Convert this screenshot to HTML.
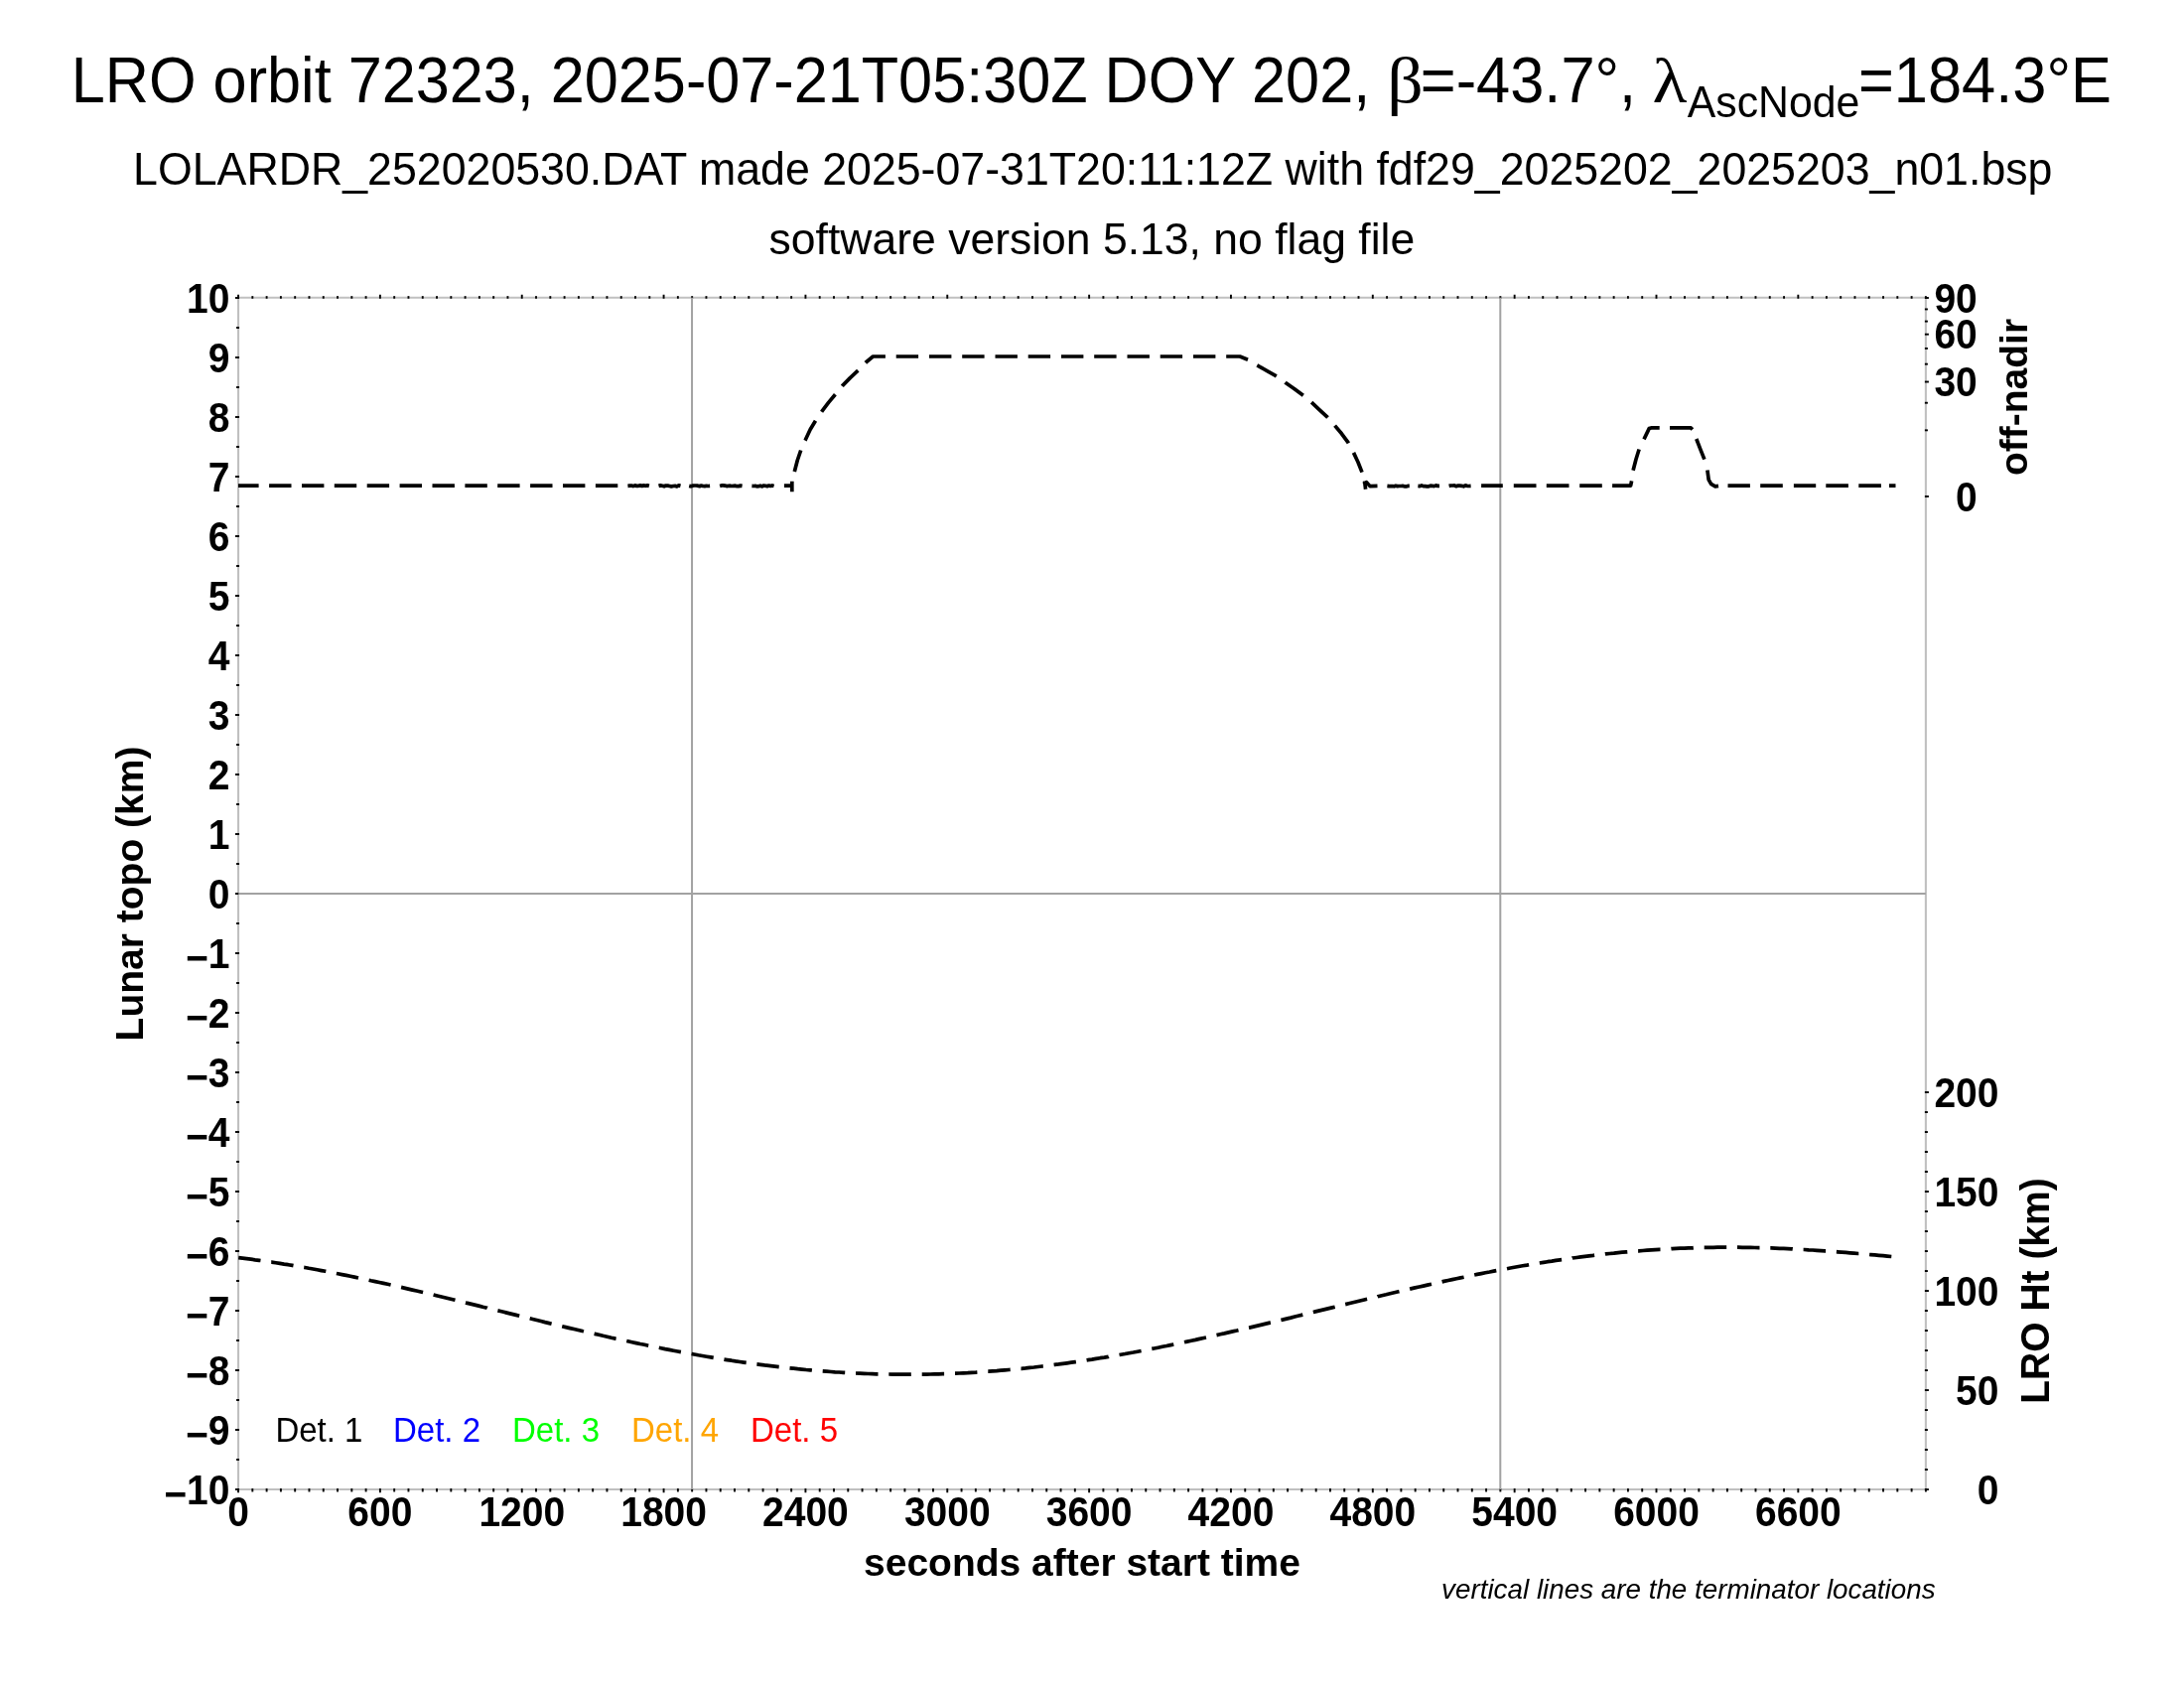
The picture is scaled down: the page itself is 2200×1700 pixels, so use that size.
<!DOCTYPE html>
<html lang="en"><head><meta charset="utf-8"><title>LRO orbit 72323</title>
<style>html,body{margin:0;padding:0;background:#fff}svg{display:block;will-change:transform}</style></head>
<body>
<svg width="2200" height="1700" viewBox="0 0 2200 1700">
<rect x="0" y="0" width="2200" height="1700" fill="#ffffff"/>
<g font-family="'Liberation Sans', sans-serif" font-size="33" text-anchor="middle">
<text transform="translate(321.4 1451.6) scale(1 1.05)" fill="#000000">Det. 1</text>
<text transform="translate(440.0 1451.6) scale(1 1.05)" fill="#0000ff">Det. 2</text>
<text transform="translate(560.0 1451.6) scale(1 1.05)" fill="#00ff00">Det. 3</text>
<text transform="translate(680.0 1451.6) scale(1 1.05)" fill="#ffa500">Det. 4</text>
<text transform="translate(800.0 1451.6) scale(1 1.05)" fill="#ff0000">Det. 5</text>
</g>
<path d="M240.05 299.75 H1939.90 V1500.05 H240.05 Z" stroke="#c0c0c0" stroke-width="2.1" fill="none"/>
<g fill="#000000">
<rect x="239.10" y="296.75" width="1.90" height="4.00"/>
<rect x="239.10" y="1499.05" width="1.90" height="4.20"/>
<rect x="253.38" y="298.15" width="1.90" height="2.60"/>
<rect x="253.38" y="1499.05" width="1.90" height="3.40"/>
<rect x="267.67" y="298.15" width="1.90" height="2.60"/>
<rect x="267.67" y="1499.05" width="1.90" height="3.40"/>
<rect x="281.95" y="298.15" width="1.90" height="2.60"/>
<rect x="281.95" y="1499.05" width="1.90" height="3.40"/>
<rect x="296.24" y="298.15" width="1.90" height="2.60"/>
<rect x="296.24" y="1499.05" width="1.90" height="3.40"/>
<rect x="310.52" y="298.15" width="1.90" height="2.60"/>
<rect x="310.52" y="1499.05" width="1.90" height="3.40"/>
<rect x="324.81" y="298.15" width="1.90" height="2.60"/>
<rect x="324.81" y="1499.05" width="1.90" height="3.40"/>
<rect x="339.09" y="298.15" width="1.90" height="2.60"/>
<rect x="339.09" y="1499.05" width="1.90" height="3.40"/>
<rect x="353.38" y="298.15" width="1.90" height="2.60"/>
<rect x="353.38" y="1499.05" width="1.90" height="3.40"/>
<rect x="367.66" y="298.15" width="1.90" height="2.60"/>
<rect x="367.66" y="1499.05" width="1.90" height="3.40"/>
<rect x="381.94" y="296.75" width="1.90" height="4.00"/>
<rect x="381.94" y="1499.05" width="1.90" height="4.20"/>
<rect x="396.23" y="298.15" width="1.90" height="2.60"/>
<rect x="396.23" y="1499.05" width="1.90" height="3.40"/>
<rect x="410.51" y="298.15" width="1.90" height="2.60"/>
<rect x="410.51" y="1499.05" width="1.90" height="3.40"/>
<rect x="424.80" y="298.15" width="1.90" height="2.60"/>
<rect x="424.80" y="1499.05" width="1.90" height="3.40"/>
<rect x="439.08" y="298.15" width="1.90" height="2.60"/>
<rect x="439.08" y="1499.05" width="1.90" height="3.40"/>
<rect x="453.37" y="298.15" width="1.90" height="2.60"/>
<rect x="453.37" y="1499.05" width="1.90" height="3.40"/>
<rect x="467.65" y="298.15" width="1.90" height="2.60"/>
<rect x="467.65" y="1499.05" width="1.90" height="3.40"/>
<rect x="481.94" y="298.15" width="1.90" height="2.60"/>
<rect x="481.94" y="1499.05" width="1.90" height="3.40"/>
<rect x="496.22" y="298.15" width="1.90" height="2.60"/>
<rect x="496.22" y="1499.05" width="1.90" height="3.40"/>
<rect x="510.50" y="298.15" width="1.90" height="2.60"/>
<rect x="510.50" y="1499.05" width="1.90" height="3.40"/>
<rect x="524.79" y="296.75" width="1.90" height="4.00"/>
<rect x="524.79" y="1499.05" width="1.90" height="4.20"/>
<rect x="539.07" y="298.15" width="1.90" height="2.60"/>
<rect x="539.07" y="1499.05" width="1.90" height="3.40"/>
<rect x="553.36" y="298.15" width="1.90" height="2.60"/>
<rect x="553.36" y="1499.05" width="1.90" height="3.40"/>
<rect x="567.64" y="298.15" width="1.90" height="2.60"/>
<rect x="567.64" y="1499.05" width="1.90" height="3.40"/>
<rect x="581.93" y="298.15" width="1.90" height="2.60"/>
<rect x="581.93" y="1499.05" width="1.90" height="3.40"/>
<rect x="596.21" y="298.15" width="1.90" height="2.60"/>
<rect x="596.21" y="1499.05" width="1.90" height="3.40"/>
<rect x="610.50" y="298.15" width="1.90" height="2.60"/>
<rect x="610.50" y="1499.05" width="1.90" height="3.40"/>
<rect x="624.78" y="298.15" width="1.90" height="2.60"/>
<rect x="624.78" y="1499.05" width="1.90" height="3.40"/>
<rect x="639.06" y="298.15" width="1.90" height="2.60"/>
<rect x="639.06" y="1499.05" width="1.90" height="3.40"/>
<rect x="653.35" y="298.15" width="1.90" height="2.60"/>
<rect x="653.35" y="1499.05" width="1.90" height="3.40"/>
<rect x="667.63" y="296.75" width="1.90" height="4.00"/>
<rect x="667.63" y="1499.05" width="1.90" height="4.20"/>
<rect x="681.92" y="298.15" width="1.90" height="2.60"/>
<rect x="681.92" y="1499.05" width="1.90" height="3.40"/>
<rect x="696.20" y="298.15" width="1.90" height="2.60"/>
<rect x="696.20" y="1499.05" width="1.90" height="3.40"/>
<rect x="710.49" y="298.15" width="1.90" height="2.60"/>
<rect x="710.49" y="1499.05" width="1.90" height="3.40"/>
<rect x="724.77" y="298.15" width="1.90" height="2.60"/>
<rect x="724.77" y="1499.05" width="1.90" height="3.40"/>
<rect x="739.06" y="298.15" width="1.90" height="2.60"/>
<rect x="739.06" y="1499.05" width="1.90" height="3.40"/>
<rect x="753.34" y="298.15" width="1.90" height="2.60"/>
<rect x="753.34" y="1499.05" width="1.90" height="3.40"/>
<rect x="767.62" y="298.15" width="1.90" height="2.60"/>
<rect x="767.62" y="1499.05" width="1.90" height="3.40"/>
<rect x="781.91" y="298.15" width="1.90" height="2.60"/>
<rect x="781.91" y="1499.05" width="1.90" height="3.40"/>
<rect x="796.19" y="298.15" width="1.90" height="2.60"/>
<rect x="796.19" y="1499.05" width="1.90" height="3.40"/>
<rect x="810.48" y="296.75" width="1.90" height="4.00"/>
<rect x="810.48" y="1499.05" width="1.90" height="4.20"/>
<rect x="824.76" y="298.15" width="1.90" height="2.60"/>
<rect x="824.76" y="1499.05" width="1.90" height="3.40"/>
<rect x="839.05" y="298.15" width="1.90" height="2.60"/>
<rect x="839.05" y="1499.05" width="1.90" height="3.40"/>
<rect x="853.33" y="298.15" width="1.90" height="2.60"/>
<rect x="853.33" y="1499.05" width="1.90" height="3.40"/>
<rect x="867.62" y="298.15" width="1.90" height="2.60"/>
<rect x="867.62" y="1499.05" width="1.90" height="3.40"/>
<rect x="881.90" y="298.15" width="1.90" height="2.60"/>
<rect x="881.90" y="1499.05" width="1.90" height="3.40"/>
<rect x="896.18" y="298.15" width="1.90" height="2.60"/>
<rect x="896.18" y="1499.05" width="1.90" height="3.40"/>
<rect x="910.47" y="298.15" width="1.90" height="2.60"/>
<rect x="910.47" y="1499.05" width="1.90" height="3.40"/>
<rect x="924.75" y="298.15" width="1.90" height="2.60"/>
<rect x="924.75" y="1499.05" width="1.90" height="3.40"/>
<rect x="939.04" y="298.15" width="1.90" height="2.60"/>
<rect x="939.04" y="1499.05" width="1.90" height="3.40"/>
<rect x="953.32" y="296.75" width="1.90" height="4.00"/>
<rect x="953.32" y="1499.05" width="1.90" height="4.20"/>
<rect x="967.61" y="298.15" width="1.90" height="2.60"/>
<rect x="967.61" y="1499.05" width="1.90" height="3.40"/>
<rect x="981.89" y="298.15" width="1.90" height="2.60"/>
<rect x="981.89" y="1499.05" width="1.90" height="3.40"/>
<rect x="996.18" y="298.15" width="1.90" height="2.60"/>
<rect x="996.18" y="1499.05" width="1.90" height="3.40"/>
<rect x="1010.46" y="298.15" width="1.90" height="2.60"/>
<rect x="1010.46" y="1499.05" width="1.90" height="3.40"/>
<rect x="1024.74" y="298.15" width="1.90" height="2.60"/>
<rect x="1024.74" y="1499.05" width="1.90" height="3.40"/>
<rect x="1039.03" y="298.15" width="1.90" height="2.60"/>
<rect x="1039.03" y="1499.05" width="1.90" height="3.40"/>
<rect x="1053.31" y="298.15" width="1.90" height="2.60"/>
<rect x="1053.31" y="1499.05" width="1.90" height="3.40"/>
<rect x="1067.60" y="298.15" width="1.90" height="2.60"/>
<rect x="1067.60" y="1499.05" width="1.90" height="3.40"/>
<rect x="1081.88" y="298.15" width="1.90" height="2.60"/>
<rect x="1081.88" y="1499.05" width="1.90" height="3.40"/>
<rect x="1096.17" y="296.75" width="1.90" height="4.00"/>
<rect x="1096.17" y="1499.05" width="1.90" height="4.20"/>
<rect x="1110.45" y="298.15" width="1.90" height="2.60"/>
<rect x="1110.45" y="1499.05" width="1.90" height="3.40"/>
<rect x="1124.74" y="298.15" width="1.90" height="2.60"/>
<rect x="1124.74" y="1499.05" width="1.90" height="3.40"/>
<rect x="1139.02" y="298.15" width="1.90" height="2.60"/>
<rect x="1139.02" y="1499.05" width="1.90" height="3.40"/>
<rect x="1153.31" y="298.15" width="1.90" height="2.60"/>
<rect x="1153.31" y="1499.05" width="1.90" height="3.40"/>
<rect x="1167.59" y="298.15" width="1.90" height="2.60"/>
<rect x="1167.59" y="1499.05" width="1.90" height="3.40"/>
<rect x="1181.87" y="298.15" width="1.90" height="2.60"/>
<rect x="1181.87" y="1499.05" width="1.90" height="3.40"/>
<rect x="1196.16" y="298.15" width="1.90" height="2.60"/>
<rect x="1196.16" y="1499.05" width="1.90" height="3.40"/>
<rect x="1210.44" y="298.15" width="1.90" height="2.60"/>
<rect x="1210.44" y="1499.05" width="1.90" height="3.40"/>
<rect x="1224.73" y="298.15" width="1.90" height="2.60"/>
<rect x="1224.73" y="1499.05" width="1.90" height="3.40"/>
<rect x="1239.01" y="296.75" width="1.90" height="4.00"/>
<rect x="1239.01" y="1499.05" width="1.90" height="4.20"/>
<rect x="1253.30" y="298.15" width="1.90" height="2.60"/>
<rect x="1253.30" y="1499.05" width="1.90" height="3.40"/>
<rect x="1267.58" y="298.15" width="1.90" height="2.60"/>
<rect x="1267.58" y="1499.05" width="1.90" height="3.40"/>
<rect x="1281.87" y="298.15" width="1.90" height="2.60"/>
<rect x="1281.87" y="1499.05" width="1.90" height="3.40"/>
<rect x="1296.15" y="298.15" width="1.90" height="2.60"/>
<rect x="1296.15" y="1499.05" width="1.90" height="3.40"/>
<rect x="1310.43" y="298.15" width="1.90" height="2.60"/>
<rect x="1310.43" y="1499.05" width="1.90" height="3.40"/>
<rect x="1324.72" y="298.15" width="1.90" height="2.60"/>
<rect x="1324.72" y="1499.05" width="1.90" height="3.40"/>
<rect x="1339.00" y="298.15" width="1.90" height="2.60"/>
<rect x="1339.00" y="1499.05" width="1.90" height="3.40"/>
<rect x="1353.29" y="298.15" width="1.90" height="2.60"/>
<rect x="1353.29" y="1499.05" width="1.90" height="3.40"/>
<rect x="1367.57" y="298.15" width="1.90" height="2.60"/>
<rect x="1367.57" y="1499.05" width="1.90" height="3.40"/>
<rect x="1381.86" y="296.75" width="1.90" height="4.00"/>
<rect x="1381.86" y="1499.05" width="1.90" height="4.20"/>
<rect x="1396.14" y="298.15" width="1.90" height="2.60"/>
<rect x="1396.14" y="1499.05" width="1.90" height="3.40"/>
<rect x="1410.43" y="298.15" width="1.90" height="2.60"/>
<rect x="1410.43" y="1499.05" width="1.90" height="3.40"/>
<rect x="1424.71" y="298.15" width="1.90" height="2.60"/>
<rect x="1424.71" y="1499.05" width="1.90" height="3.40"/>
<rect x="1438.99" y="298.15" width="1.90" height="2.60"/>
<rect x="1438.99" y="1499.05" width="1.90" height="3.40"/>
<rect x="1453.28" y="298.15" width="1.90" height="2.60"/>
<rect x="1453.28" y="1499.05" width="1.90" height="3.40"/>
<rect x="1467.56" y="298.15" width="1.90" height="2.60"/>
<rect x="1467.56" y="1499.05" width="1.90" height="3.40"/>
<rect x="1481.85" y="298.15" width="1.90" height="2.60"/>
<rect x="1481.85" y="1499.05" width="1.90" height="3.40"/>
<rect x="1496.13" y="298.15" width="1.90" height="2.60"/>
<rect x="1496.13" y="1499.05" width="1.90" height="3.40"/>
<rect x="1510.42" y="298.15" width="1.90" height="2.60"/>
<rect x="1510.42" y="1499.05" width="1.90" height="3.40"/>
<rect x="1524.70" y="296.75" width="1.90" height="4.00"/>
<rect x="1524.70" y="1499.05" width="1.90" height="4.20"/>
<rect x="1538.99" y="298.15" width="1.90" height="2.60"/>
<rect x="1538.99" y="1499.05" width="1.90" height="3.40"/>
<rect x="1553.27" y="298.15" width="1.90" height="2.60"/>
<rect x="1553.27" y="1499.05" width="1.90" height="3.40"/>
<rect x="1567.55" y="298.15" width="1.90" height="2.60"/>
<rect x="1567.55" y="1499.05" width="1.90" height="3.40"/>
<rect x="1581.84" y="298.15" width="1.90" height="2.60"/>
<rect x="1581.84" y="1499.05" width="1.90" height="3.40"/>
<rect x="1596.12" y="298.15" width="1.90" height="2.60"/>
<rect x="1596.12" y="1499.05" width="1.90" height="3.40"/>
<rect x="1610.41" y="298.15" width="1.90" height="2.60"/>
<rect x="1610.41" y="1499.05" width="1.90" height="3.40"/>
<rect x="1624.69" y="298.15" width="1.90" height="2.60"/>
<rect x="1624.69" y="1499.05" width="1.90" height="3.40"/>
<rect x="1638.98" y="298.15" width="1.90" height="2.60"/>
<rect x="1638.98" y="1499.05" width="1.90" height="3.40"/>
<rect x="1653.26" y="298.15" width="1.90" height="2.60"/>
<rect x="1653.26" y="1499.05" width="1.90" height="3.40"/>
<rect x="1667.55" y="296.75" width="1.90" height="4.00"/>
<rect x="1667.55" y="1499.05" width="1.90" height="4.20"/>
<rect x="1681.83" y="298.15" width="1.90" height="2.60"/>
<rect x="1681.83" y="1499.05" width="1.90" height="3.40"/>
<rect x="1696.11" y="298.15" width="1.90" height="2.60"/>
<rect x="1696.11" y="1499.05" width="1.90" height="3.40"/>
<rect x="1710.40" y="298.15" width="1.90" height="2.60"/>
<rect x="1710.40" y="1499.05" width="1.90" height="3.40"/>
<rect x="1724.68" y="298.15" width="1.90" height="2.60"/>
<rect x="1724.68" y="1499.05" width="1.90" height="3.40"/>
<rect x="1738.97" y="298.15" width="1.90" height="2.60"/>
<rect x="1738.97" y="1499.05" width="1.90" height="3.40"/>
<rect x="1753.25" y="298.15" width="1.90" height="2.60"/>
<rect x="1753.25" y="1499.05" width="1.90" height="3.40"/>
<rect x="1767.54" y="298.15" width="1.90" height="2.60"/>
<rect x="1767.54" y="1499.05" width="1.90" height="3.40"/>
<rect x="1781.82" y="298.15" width="1.90" height="2.60"/>
<rect x="1781.82" y="1499.05" width="1.90" height="3.40"/>
<rect x="1796.11" y="298.15" width="1.90" height="2.60"/>
<rect x="1796.11" y="1499.05" width="1.90" height="3.40"/>
<rect x="1810.39" y="296.75" width="1.90" height="4.00"/>
<rect x="1810.39" y="1499.05" width="1.90" height="4.20"/>
<rect x="1824.67" y="298.15" width="1.90" height="2.60"/>
<rect x="1824.67" y="1499.05" width="1.90" height="3.40"/>
<rect x="1838.96" y="298.15" width="1.90" height="2.60"/>
<rect x="1838.96" y="1499.05" width="1.90" height="3.40"/>
<rect x="1853.24" y="298.15" width="1.90" height="2.60"/>
<rect x="1853.24" y="1499.05" width="1.90" height="3.40"/>
<rect x="1867.53" y="298.15" width="1.90" height="2.60"/>
<rect x="1867.53" y="1499.05" width="1.90" height="3.40"/>
<rect x="1881.81" y="298.15" width="1.90" height="2.60"/>
<rect x="1881.81" y="1499.05" width="1.90" height="3.40"/>
<rect x="1896.10" y="298.15" width="1.90" height="2.60"/>
<rect x="1896.10" y="1499.05" width="1.90" height="3.40"/>
<rect x="1910.38" y="298.15" width="1.90" height="2.60"/>
<rect x="1910.38" y="1499.05" width="1.90" height="3.40"/>
<rect x="1924.67" y="298.15" width="1.90" height="2.60"/>
<rect x="1924.67" y="1499.05" width="1.90" height="3.40"/>
<rect x="1938.95" y="298.15" width="1.90" height="2.60"/>
<rect x="1938.95" y="1499.05" width="1.90" height="3.40"/>
<rect x="236.95" y="1499.05" width="4.10" height="1.90"/>
<rect x="238.05" y="1469.05" width="3.00" height="1.90"/>
<rect x="236.95" y="1439.05" width="4.10" height="1.90"/>
<rect x="238.05" y="1409.05" width="3.00" height="1.90"/>
<rect x="236.95" y="1379.05" width="4.10" height="1.90"/>
<rect x="238.05" y="1349.05" width="3.00" height="1.90"/>
<rect x="236.95" y="1319.05" width="4.10" height="1.90"/>
<rect x="238.05" y="1289.05" width="3.00" height="1.90"/>
<rect x="236.95" y="1259.05" width="4.10" height="1.90"/>
<rect x="238.05" y="1229.05" width="3.00" height="1.90"/>
<rect x="236.95" y="1199.05" width="4.10" height="1.90"/>
<rect x="238.05" y="1169.05" width="3.00" height="1.90"/>
<rect x="236.95" y="1139.05" width="4.10" height="1.90"/>
<rect x="238.05" y="1109.05" width="3.00" height="1.90"/>
<rect x="236.95" y="1079.05" width="4.10" height="1.90"/>
<rect x="238.05" y="1049.05" width="3.00" height="1.90"/>
<rect x="236.95" y="1019.05" width="4.10" height="1.90"/>
<rect x="238.05" y="989.05" width="3.00" height="1.90"/>
<rect x="236.95" y="959.05" width="4.10" height="1.90"/>
<rect x="238.05" y="929.05" width="3.00" height="1.90"/>
<rect x="236.95" y="899.05" width="4.10" height="1.90"/>
<rect x="238.05" y="869.05" width="3.00" height="1.90"/>
<rect x="236.95" y="839.05" width="4.10" height="1.90"/>
<rect x="238.05" y="809.05" width="3.00" height="1.90"/>
<rect x="236.95" y="779.05" width="4.10" height="1.90"/>
<rect x="238.05" y="749.05" width="3.00" height="1.90"/>
<rect x="236.95" y="719.05" width="4.10" height="1.90"/>
<rect x="238.05" y="689.05" width="3.00" height="1.90"/>
<rect x="236.95" y="659.05" width="4.10" height="1.90"/>
<rect x="238.05" y="629.05" width="3.00" height="1.90"/>
<rect x="236.95" y="599.05" width="4.10" height="1.90"/>
<rect x="238.05" y="569.05" width="3.00" height="1.90"/>
<rect x="236.95" y="539.05" width="4.10" height="1.90"/>
<rect x="238.05" y="509.05" width="3.00" height="1.90"/>
<rect x="236.95" y="479.05" width="4.10" height="1.90"/>
<rect x="238.05" y="449.05" width="3.00" height="1.90"/>
<rect x="236.95" y="419.05" width="4.10" height="1.90"/>
<rect x="238.05" y="389.05" width="3.00" height="1.90"/>
<rect x="236.95" y="359.05" width="4.10" height="1.90"/>
<rect x="238.05" y="329.05" width="3.00" height="1.90"/>
<rect x="236.95" y="299.05" width="4.10" height="1.90"/>
<rect x="1938.90" y="1499.10" width="4.00" height="1.90"/>
<rect x="1938.90" y="1479.10" width="3.00" height="1.90"/>
<rect x="1938.90" y="1459.10" width="3.00" height="1.90"/>
<rect x="1938.90" y="1439.10" width="3.00" height="1.90"/>
<rect x="1938.90" y="1419.10" width="3.00" height="1.90"/>
<rect x="1938.90" y="1399.10" width="4.00" height="1.90"/>
<rect x="1938.90" y="1379.10" width="3.00" height="1.90"/>
<rect x="1938.90" y="1359.10" width="3.00" height="1.90"/>
<rect x="1938.90" y="1339.10" width="3.00" height="1.90"/>
<rect x="1938.90" y="1319.10" width="3.00" height="1.90"/>
<rect x="1938.90" y="1299.10" width="4.00" height="1.90"/>
<rect x="1938.90" y="1279.10" width="3.00" height="1.90"/>
<rect x="1938.90" y="1259.10" width="3.00" height="1.90"/>
<rect x="1938.90" y="1239.10" width="3.00" height="1.90"/>
<rect x="1938.90" y="1219.10" width="3.00" height="1.90"/>
<rect x="1938.90" y="1199.10" width="4.00" height="1.90"/>
<rect x="1938.90" y="1179.10" width="3.00" height="1.90"/>
<rect x="1938.90" y="1159.10" width="3.00" height="1.90"/>
<rect x="1938.90" y="1139.10" width="3.00" height="1.90"/>
<rect x="1938.90" y="1119.10" width="3.00" height="1.90"/>
<rect x="1938.90" y="1099.10" width="4.00" height="1.90"/>
<rect x="1938.90" y="499.05" width="4.00" height="1.90"/>
<rect x="1938.90" y="432.38" width="3.00" height="1.90"/>
<rect x="1938.90" y="404.77" width="3.00" height="1.90"/>
<rect x="1938.90" y="383.58" width="4.00" height="1.90"/>
<rect x="1938.90" y="365.72" width="3.00" height="1.90"/>
<rect x="1938.90" y="349.98" width="3.00" height="1.90"/>
<rect x="1938.90" y="335.75" width="4.00" height="1.90"/>
<rect x="1938.90" y="322.67" width="3.00" height="1.90"/>
<rect x="1938.90" y="310.49" width="3.00" height="1.90"/>
<rect x="1938.90" y="299.05" width="4.00" height="1.90"/>
</g>
<g stroke="#a2a2a2" stroke-width="2.0" fill="none" stroke-linecap="butt">
<path d="M240.25 899.95 H1939.90"/>
<path d="M697.05 299.75 V1500.05"/>
<path d="M1511.30 299.75 V1500.05"/>
</g>
<path d="M240.0 489.2 L260.6 489.2 M271.1 489.2 L293.5 489.2 M304.0 489.2 L326.4 489.2 M336.8 489.2 L359.2 489.2 M369.7 489.2 L392.1 489.2 M402.6 489.2 L425.0 489.2 M435.5 489.2 L457.9 489.2 M468.4 489.2 L490.8 489.2 M501.2 489.2 L523.6 489.2 M534.1 489.2 L556.5 489.2 M567.0 489.2 L589.4 489.2 M599.9 489.2 L622.3 489.2 M632.4 489.4 L634.2 489.2 L636.0 489.0 L637.8 489.6 L639.6 488.9 L641.4 489.4 L643.1 489.3 L644.9 488.9 L646.7 489.4 L648.5 488.9 L650.3 489.3 L652.1 488.9 L653.9 489.4 M663.5 489.4 L665.3 488.9 L667.2 489.3 L669.0 489.8 L670.8 489.0 L672.7 489.1 L674.5 489.5 L676.3 489.9 L678.2 489.5 L680.0 489.3 L681.8 489.9 L683.7 488.9 L685.5 489.4 M694.2 489.4 L695.9 489.8 L697.7 489.2 L699.4 489.0 L701.2 489.0 L702.9 489.2 L704.7 489.7 L706.4 489.0 L708.1 489.5 L709.9 489.6 L711.6 489.3 L713.4 489.5 L715.1 489.4 M725.1 489.4 L726.8 488.9 L728.6 488.9 L730.3 489.1 L732.0 489.6 L733.8 489.3 L735.5 489.2 L737.2 489.5 L738.9 489.3 L740.7 489.2 L742.4 489.7 L744.1 489.6 L745.9 489.1 L747.6 489.4 M757.4 489.4 L759.1 489.5 L760.8 489.4 L762.5 489.8 L764.2 489.7 L765.9 489.2 L767.6 489.9 L769.4 489.0 L771.1 489.3 L772.8 489.7 L774.5 489.0 L776.2 489.4 L777.9 488.9 L779.6 489.4 M789.9 489.2 L797.8 489.2 M797.8 495.2 L797.8 484.8 M800.3 475.0 L803.3 463.5 L806.7 453.5 M811.0 443.6 L811.4 442.8 L816.2 432.5 L821.5 423.8 M827.6 414.8 L828.0 414.2 L834.6 405.4 L841.4 397.2 M848.3 388.9 L848.7 388.4 L856.3 380.6 L864.3 373.2 M871.8 365.3 L871.9 365.2 L879.4 359.0 L891.9 359.0 M902.7 359.0 L925.1 359.0 M936.0 359.0 L958.4 359.0 M969.2 359.0 L991.6 359.0 M1002.5 359.0 L1024.9 359.0 M1035.7 359.0 L1058.1 359.0 M1069.0 359.0 L1091.4 359.0 M1102.2 359.0 L1124.6 359.0 M1135.5 359.0 L1157.9 359.0 M1168.7 359.0 L1191.1 359.0 M1202.0 359.0 L1224.4 359.0 M1235.2 359.0 L1249.0 359.0 L1257.0 362.2 L1257.0 362.2 M1266.3 367.9 L1266.3 367.9 L1276.0 373.3 L1285.8 378.8 M1294.6 385.1 L1294.7 385.2 L1304.0 391.7 L1312.8 398.2 M1321.1 405.2 L1329.0 412.6 L1337.4 420.4 L1337.5 420.5 M1344.6 428.6 L1351.5 436.8 L1358.0 445.7 L1358.3 446.3 M1363.5 455.9 L1368.0 465.5 L1372.0 475.6 M1374.6 484.5 L1375.6 492.8 M1373.4 487.5 L1376.5 485.6 L1380.0 489.6 L1387.5 489.4 M1397.4 489.4 L1399.1 489.6 L1400.8 489.7 L1402.6 489.5 L1404.3 489.8 L1406.0 489.2 L1407.7 489.6 L1409.5 489.5 L1411.2 489.5 L1412.9 489.4 L1414.6 489.8 L1416.4 489.9 L1418.1 489.4 L1419.8 489.4 M1428.4 489.4 L1430.2 489.6 L1432.0 488.9 L1433.8 489.6 L1435.6 489.6 L1437.4 489.9 L1439.2 489.8 L1441.0 489.2 L1442.8 489.3 L1444.6 489.6 L1446.4 488.9 L1448.2 489.4 L1450.0 489.4 M1459.6 489.4 L1461.4 489.0 L1463.3 489.0 L1465.1 488.9 L1466.9 489.7 L1468.8 489.0 L1470.6 489.1 L1472.4 489.3 L1474.3 489.8 L1476.1 488.9 L1477.9 489.3 L1479.8 489.5 L1481.6 489.4 M1492.1 489.2 L1513.8 489.2 M1524.8 489.2 L1547.5 489.2 M1557.8 489.2 L1580.5 489.2 M1591.2 489.2 L1613.8 489.2 M1624.1 489.2 L1642.6 489.2 L1643.6 484.3 M1645.1 473.8 L1648.0 462.5 L1651.1 452.5 M1656.0 442.4 L1661.2 431.6 L1663.2 430.9 L1671.7 430.9 M1682.0 430.9 L1703.3 430.9 L1704.9 432.6 M1708.8 442.0 L1712.8 452.3 L1716.9 462.6 M1719.9 473.4 L1721.2 483.2 L1723.6 487.4 L1727.8 489.8 L1731.0 489.3 M1740.5 489.1 L1762.9 489.1 M1773.2 489.1 L1795.8 489.1 M1806.9 489.1 L1829.2 489.1 M1839.3 489.1 L1861.9 489.1 M1872.3 489.1 L1894.9 489.1 M1903.0 489.1 L1909.5 489.1" stroke="#000000" stroke-width="3.7" fill="none" stroke-linejoin="round" stroke-linecap="butt"/>
<path d="M240.2 1266.7 L244.4 1267.2 L248.5 1267.7 L252.7 1268.2 L256.9 1268.8 L261.1 1269.3 L262.5 1269.5 M273.2 1271.1 L273.6 1271.1 L277.8 1271.8 L281.9 1272.4 L286.1 1273.1 L290.3 1273.7 L294.5 1274.4 L295.5 1274.6 M306.2 1276.4 L307.0 1276.5 L311.1 1277.3 L315.3 1278.0 L319.5 1278.8 L323.7 1279.6 L327.8 1280.3 L328.3 1280.4 M338.9 1282.5 L340.4 1282.8 L344.5 1283.6 L348.7 1284.4 L352.9 1285.3 L357.0 1286.1 L361.0 1287.0 M371.6 1289.2 L373.7 1289.7 L377.9 1290.6 L382.1 1291.5 L386.3 1292.4 L390.4 1293.3 L393.6 1294.0 M404.1 1296.4 L407.1 1297.1 L411.3 1298.1 L415.5 1299.1 L419.6 1300.0 L423.8 1301.0 L426.1 1301.5 M436.6 1304.0 L440.5 1305.0 L444.7 1306.0 L448.9 1307.0 L453.0 1308.0 L457.2 1309.0 L458.5 1309.3 M469.0 1311.9 L469.7 1312.1 L473.9 1313.1 L478.1 1314.1 L482.2 1315.1 L486.4 1316.2 L490.6 1317.2 L490.8 1317.3 M501.4 1319.9 L503.1 1320.3 L507.3 1321.3 L511.5 1322.4 L515.6 1323.4 L519.8 1324.4 L523.2 1325.3 M533.7 1327.8 L536.5 1328.5 L540.7 1329.5 L544.8 1330.5 L549.0 1331.6 L553.2 1332.6 L555.6 1333.2 M566.2 1335.7 L569.9 1336.6 L574.1 1337.6 L578.2 1338.5 L582.4 1339.5 L586.6 1340.5 L588.0 1340.8 M598.6 1343.3 L599.1 1343.4 L603.3 1344.3 L607.4 1345.3 L611.6 1346.2 L615.8 1347.2 L620.0 1348.1 L620.6 1348.2 M631.2 1350.5 L632.5 1350.8 L636.7 1351.7 L640.8 1352.6 L645.0 1353.5 L649.2 1354.3 L653.2 1355.2 M663.8 1357.3 L665.9 1357.7 L670.0 1358.6 L674.2 1359.4 L678.4 1360.2 L682.6 1361.0 L685.9 1361.6 M696.6 1363.5 L699.3 1364.0 L703.4 1364.8 L707.6 1365.5 L711.8 1366.2 L715.9 1366.9 L718.7 1367.4 M729.4 1369.1 L732.6 1369.6 L736.8 1370.2 L741.0 1370.9 L745.2 1371.5 L749.3 1372.1 L751.7 1372.4 M762.4 1373.9 L766.0 1374.3 L770.2 1374.9 L774.4 1375.4 L778.5 1375.9 L782.7 1376.4 L784.7 1376.6 M795.5 1377.8 L799.4 1378.2 L803.6 1378.7 L807.8 1379.1 L811.9 1379.5 L816.1 1379.8 L817.9 1380.0 M828.7 1380.9 L832.8 1381.2 L837.0 1381.5 L841.1 1381.8 L845.3 1382.0 L849.5 1382.3 L851.2 1382.4 M862.0 1383.0 L862.0 1383.0 L866.2 1383.1 L870.4 1383.3 L874.5 1383.5 L878.7 1383.6 L882.9 1383.8 L884.5 1383.8 M895.3 1384.0 L895.4 1384.0 L899.6 1384.1 L903.7 1384.2 L907.9 1384.2 L912.1 1384.2 L916.3 1384.2 L917.8 1384.2 M928.7 1384.1 L928.8 1384.1 L932.9 1384.1 L937.1 1384.0 L941.3 1383.9 L945.5 1383.8 L949.6 1383.6 L951.1 1383.6 M962.0 1383.2 L962.2 1383.2 L966.3 1383.0 L970.5 1382.8 L974.7 1382.6 L978.9 1382.3 L983.0 1382.1 L984.4 1382.0 M995.3 1381.2 L995.5 1381.2 L999.7 1380.9 L1003.9 1380.6 L1008.1 1380.2 L1012.2 1379.9 L1016.4 1379.5 L1017.7 1379.4 M1028.5 1378.3 L1028.9 1378.3 L1033.1 1377.9 L1037.3 1377.4 L1041.5 1377.0 L1045.6 1376.5 L1049.8 1376.0 L1050.8 1375.9 M1061.6 1374.5 L1062.3 1374.4 L1066.5 1373.9 L1070.7 1373.3 L1074.8 1372.8 L1079.0 1372.2 L1083.2 1371.6 L1083.9 1371.5 M1094.6 1369.9 L1095.7 1369.7 L1099.9 1369.1 L1104.0 1368.4 L1108.2 1367.7 L1112.4 1367.1 L1116.6 1366.4 L1116.8 1366.3 M1127.5 1364.5 L1129.1 1364.2 L1133.3 1363.5 L1137.4 1362.7 L1141.6 1362.0 L1145.8 1361.2 L1149.6 1360.5 M1160.3 1358.4 L1162.5 1358.0 L1166.6 1357.2 L1170.8 1356.3 L1175.0 1355.5 L1179.2 1354.6 L1182.3 1354.0 M1193.0 1351.8 L1195.9 1351.1 L1200.0 1350.3 L1204.2 1349.4 L1208.4 1348.4 L1212.6 1347.5 L1215.0 1347.0 M1225.5 1344.6 L1229.2 1343.8 L1233.4 1342.9 L1237.6 1341.9 L1241.8 1340.9 L1245.9 1340.0 L1247.5 1339.6 M1258.0 1337.2 L1258.5 1337.1 L1262.6 1336.1 L1266.8 1335.1 L1271.0 1334.1 L1275.1 1333.1 L1279.3 1332.1 L1279.9 1332.0 M1290.4 1329.4 L1291.8 1329.1 L1296.0 1328.1 L1300.2 1327.1 L1304.4 1326.0 L1308.5 1325.0 L1312.3 1324.1 M1322.8 1321.5 L1325.2 1320.9 L1329.4 1319.9 L1333.6 1318.9 L1337.7 1317.9 L1341.9 1316.9 L1344.7 1316.2 M1355.2 1313.6 L1358.6 1312.8 L1362.8 1311.8 L1367.0 1310.8 L1371.1 1309.8 L1375.3 1308.7 L1377.1 1308.3 M1387.6 1305.8 L1387.8 1305.7 L1392.0 1304.7 L1396.2 1303.8 L1400.3 1302.8 L1404.5 1301.8 L1408.7 1300.8 L1409.5 1300.6 M1420.1 1298.2 L1421.2 1297.9 L1425.4 1296.9 L1429.6 1296.0 L1433.7 1295.1 L1437.9 1294.1 L1442.0 1293.2 M1452.6 1290.9 L1454.6 1290.4 L1458.8 1289.5 L1462.9 1288.6 L1467.1 1287.7 L1471.3 1286.9 L1474.6 1286.2 M1485.2 1284.0 L1488.0 1283.4 L1492.2 1282.6 L1496.3 1281.8 L1500.5 1281.0 L1504.7 1280.1 L1507.3 1279.6 M1518.0 1277.7 L1521.4 1277.0 L1525.5 1276.3 L1529.7 1275.5 L1533.9 1274.8 L1538.1 1274.1 L1540.1 1273.7 M1550.8 1272.0 L1554.8 1271.4 L1558.9 1270.7 L1563.1 1270.1 L1567.3 1269.4 L1571.4 1268.8 L1573.1 1268.6 M1583.8 1267.1 L1584.0 1267.0 L1588.1 1266.5 L1592.3 1265.9 L1596.5 1265.4 L1600.7 1264.9 L1604.8 1264.4 L1606.1 1264.2 M1616.9 1263.0 L1617.4 1262.9 L1621.5 1262.5 L1625.7 1262.1 L1629.9 1261.6 L1634.0 1261.2 L1638.2 1260.9 L1639.3 1260.8 M1650.1 1259.8 L1650.7 1259.8 L1654.9 1259.5 L1659.1 1259.2 L1663.3 1258.9 L1667.4 1258.6 L1671.6 1258.3 L1672.5 1258.3 M1683.4 1257.7 L1684.1 1257.6 L1688.3 1257.4 L1692.5 1257.2 L1696.6 1257.1 L1700.8 1256.9 L1705.0 1256.8 L1705.8 1256.7 M1716.7 1256.4 L1717.5 1256.4 L1721.7 1256.4 L1725.9 1256.3 L1730.0 1256.2 L1734.2 1256.2 L1738.4 1256.2 L1739.2 1256.2 M1750.0 1256.2 L1750.9 1256.2 L1755.1 1256.3 L1759.2 1256.3 L1763.4 1256.4 L1767.6 1256.5 L1771.8 1256.6 L1772.5 1256.6 M1783.3 1256.9 L1784.3 1256.9 L1788.5 1257.1 L1792.6 1257.3 L1796.8 1257.4 L1801.0 1257.6 L1805.1 1257.8 L1805.8 1257.9 M1816.6 1258.5 L1817.7 1258.5 L1821.8 1258.8 L1826.0 1259.0 L1830.2 1259.3 L1834.4 1259.6 L1838.5 1259.9 L1839.1 1259.9 M1849.9 1260.7 L1851.0 1260.8 L1855.2 1261.1 L1859.4 1261.4 L1863.6 1261.8 L1867.7 1262.1 L1871.9 1262.5 L1872.3 1262.5 M1883.1 1263.5 L1884.4 1263.6 L1888.6 1263.9 L1892.8 1264.3 L1897.0 1264.7 L1901.1 1265.1 L1905.3 1265.5" stroke="#000000" stroke-width="3.7" fill="none" stroke-linejoin="round" stroke-linecap="butt"/>
<g font-family="'Liberation Sans', sans-serif" fill="#000000">
<text transform="translate(71.80 103.00) scale(1 1.060)" font-size="61.20" >LRO orbit 72323, 2025-07-21T05:30Z DOY 202,</text>
<text transform="translate(1397.2 103.0) scale(1.10 1)" font-family="'Liberation Serif', serif" font-size="65.1">β</text>
<text transform="translate(1430.80 103.00) scale(1 1.060)" font-size="61.40" >=-43.7°,</text>
<text transform="translate(1664.5 103.2) scale(1.12 1)" font-family="'Liberation Serif', serif" font-size="64.3">λ</text>
<text transform="translate(1699.70 118.00) scale(1 1.020)" font-size="42.80" >AscNode</text>
<text transform="translate(1872.00 103.00) scale(1 1.060)" font-size="61.40" >=184.3°E</text>
<text transform="translate(1100.80 185.90) scale(1 1.050)" font-size="44.70" text-anchor="middle">LOLARDR_252020530.DAT made 2025-07-31T20:11:12Z with fdf29_2025202_2025203_n01.bsp</text>
<text x="1099.9" y="255.5" font-size="44.5" text-anchor="middle">software version 5.13, no flag file</text>
<text x="1949.6" y="1609.9" font-size="27.8" font-style="italic" text-anchor="end">vertical lines are the terminator locations</text>
</g>
<g font-family="'Liberation Sans', sans-serif" font-weight="bold" font-size="39.0" fill="#000000">
<text transform="translate(240.05 1536.50) scale(1 1.070)" text-anchor="middle">0</text>
<text transform="translate(382.89 1536.50) scale(1 1.070)" text-anchor="middle">600</text>
<text transform="translate(525.74 1536.50) scale(1 1.070)" text-anchor="middle">1200</text>
<text transform="translate(668.58 1536.50) scale(1 1.070)" text-anchor="middle">1800</text>
<text transform="translate(811.43 1536.50) scale(1 1.070)" text-anchor="middle">2400</text>
<text transform="translate(954.27 1536.50) scale(1 1.070)" text-anchor="middle">3000</text>
<text transform="translate(1097.12 1536.50) scale(1 1.070)" text-anchor="middle">3600</text>
<text transform="translate(1239.96 1536.50) scale(1 1.070)" text-anchor="middle">4200</text>
<text transform="translate(1382.81 1536.50) scale(1 1.070)" text-anchor="middle">4800</text>
<text transform="translate(1525.65 1536.50) scale(1 1.070)" text-anchor="middle">5400</text>
<text transform="translate(1668.50 1536.50) scale(1 1.070)" text-anchor="middle">6000</text>
<text transform="translate(1811.34 1536.50) scale(1 1.070)" text-anchor="middle">6600</text>
<text transform="translate(231.50 1514.55) scale(1 1.070)" text-anchor="end"><tspan dy="3.9">−</tspan><tspan dy="-3.9">10</tspan></text>
<text transform="translate(231.50 1454.55) scale(1 1.070)" text-anchor="end"><tspan dy="3.9">−</tspan><tspan dy="-3.9">9</tspan></text>
<text transform="translate(231.50 1394.55) scale(1 1.070)" text-anchor="end"><tspan dy="3.9">−</tspan><tspan dy="-3.9">8</tspan></text>
<text transform="translate(231.50 1334.55) scale(1 1.070)" text-anchor="end"><tspan dy="3.9">−</tspan><tspan dy="-3.9">7</tspan></text>
<text transform="translate(231.50 1274.55) scale(1 1.070)" text-anchor="end"><tspan dy="3.9">−</tspan><tspan dy="-3.9">6</tspan></text>
<text transform="translate(231.50 1214.55) scale(1 1.070)" text-anchor="end"><tspan dy="3.9">−</tspan><tspan dy="-3.9">5</tspan></text>
<text transform="translate(231.50 1154.55) scale(1 1.070)" text-anchor="end"><tspan dy="3.9">−</tspan><tspan dy="-3.9">4</tspan></text>
<text transform="translate(231.50 1094.55) scale(1 1.070)" text-anchor="end"><tspan dy="3.9">−</tspan><tspan dy="-3.9">3</tspan></text>
<text transform="translate(231.50 1034.55) scale(1 1.070)" text-anchor="end"><tspan dy="3.9">−</tspan><tspan dy="-3.9">2</tspan></text>
<text transform="translate(231.50 974.55) scale(1 1.070)" text-anchor="end"><tspan dy="3.9">−</tspan><tspan dy="-3.9">1</tspan></text>
<text transform="translate(231.50 914.55) scale(1 1.070)" text-anchor="end">0</text>
<text transform="translate(231.50 854.55) scale(1 1.070)" text-anchor="end">1</text>
<text transform="translate(231.50 794.55) scale(1 1.070)" text-anchor="end">2</text>
<text transform="translate(231.50 734.55) scale(1 1.070)" text-anchor="end">3</text>
<text transform="translate(231.50 674.55) scale(1 1.070)" text-anchor="end">4</text>
<text transform="translate(231.50 614.55) scale(1 1.070)" text-anchor="end">5</text>
<text transform="translate(231.50 554.55) scale(1 1.070)" text-anchor="end">6</text>
<text transform="translate(231.50 494.55) scale(1 1.070)" text-anchor="end">7</text>
<text transform="translate(231.50 434.55) scale(1 1.070)" text-anchor="end">8</text>
<text transform="translate(231.50 374.55) scale(1 1.070)" text-anchor="end">9</text>
<text transform="translate(231.50 314.55) scale(1 1.070)" text-anchor="end">10</text>
<text transform="translate(2013.50 1514.60) scale(1 1.070)" text-anchor="end">0</text>
<text transform="translate(2013.50 1414.60) scale(1 1.070)" text-anchor="end">50</text>
<text transform="translate(2013.50 1314.60) scale(1 1.070)" text-anchor="end">100</text>
<text transform="translate(2013.50 1214.60) scale(1 1.070)" text-anchor="end">150</text>
<text transform="translate(2013.50 1114.60) scale(1 1.070)" text-anchor="end">200</text>
<text transform="translate(1991.80 514.55) scale(1 1.070)" text-anchor="end">0</text>
<text transform="translate(1991.80 399.08) scale(1 1.070)" text-anchor="end">30</text>
<text transform="translate(1991.80 351.25) scale(1 1.070)" text-anchor="end">60</text>
<text transform="translate(1991.80 314.55) scale(1 1.070)" text-anchor="end">90</text>
<text x="1090" y="1587.3" text-anchor="middle">seconds after start time</text>
<text transform="translate(144.4 900) rotate(-90)" text-anchor="middle">Lunar topo (km)</text>
<text transform="translate(2064.3 1300) rotate(-90) scale(1 1.03)" text-anchor="middle">LRO Ht (km)</text>
<text transform="translate(2041.9 400) rotate(-90)" text-anchor="middle">off-nadir</text>
</g>
</svg>
</body></html>
